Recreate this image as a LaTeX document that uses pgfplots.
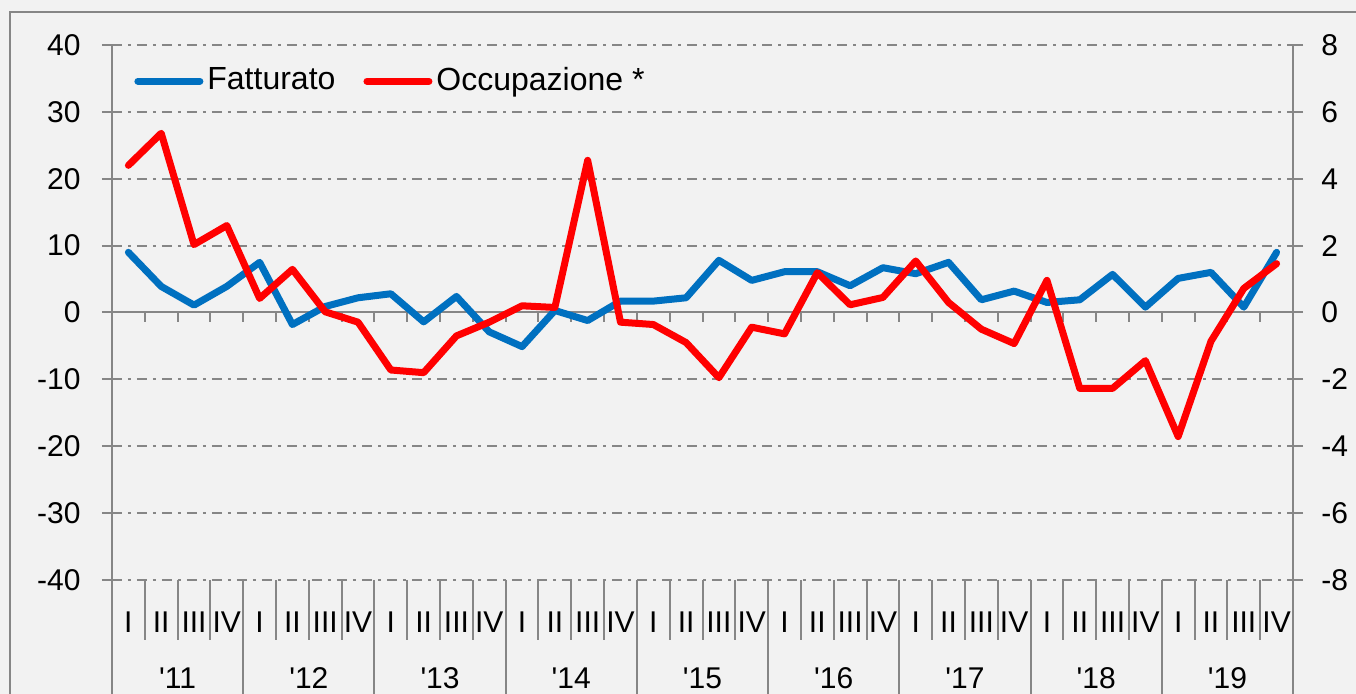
\documentclass[border=0pt]{standalone}
\usepackage{fontspec}
\setmainfont{Liberation Sans}[Ligatures=TeXOff]
\usepackage{pgfplots}
\usepackage{pgfplotstable}
\pgfplotsset{compat=1.18}
\definecolor{bg}{RGB}{242,242,242}
\definecolor{axc}{RGB}{134,134,134}
\definecolor{blu}{RGB}{0,112,192}
\definecolor{rosso}{RGB}{255,0,0}

\pgfplotstableread{
x f o
0 9.0 4.40
1 3.9 5.36
2 1.1 2.03
3 3.9 2.60
4 7.5 0.42
5 -1.8 1.29
6 0.9 0.02
7 2.2 -0.29
8 2.8 -1.72
9 -1.4 -1.80
10 2.4 -0.70
11 -2.9 -0.29
12 -5.1 0.20
13 0.3 0.15
14 -1.2 4.55
15 1.7 -0.29
16 1.7 -0.36
17 2.2 -0.90
18 7.8 -1.95
19 4.8 -0.44
20 6.1 -0.64
21 6.1 1.19
22 4.0 0.23
23 6.7 0.45
24 5.8 1.54
25 7.5 0.30
26 1.9 -0.50
27 3.2 -0.93
28 1.5 0.96
29 1.9 -2.27
30 5.7 -2.27
31 0.8 -1.44
32 5.1 -3.71
33 6.0 -0.86
34 0.8 0.72
35 9.0 1.46
}\datatable

\begin{document}
\fontsize{15}{18}\selectfont
\begin{tikzpicture}
\fill[bg] (-56pt,-57pt) rectangle (622pt,290pt);
\path[use as bounding box] (-56pt,-57pt) rectangle (622pt,290pt);
\draw[axc, line width=1pt] (-51pt,-70pt) -- (-51pt,284pt) -- (640pt,284pt);
\begin{axis}[
  at={(0,0)}, anchor=south west,
  scale only axis, width=590.5pt, height=267.5pt,
  xmin=-0.5, xmax=35.5, ymin=-40, ymax=40,
  axis y line*=left, axis x line*=bottom,
  x axis line style={draw=none},
  y axis line style={axc, line width=1pt},
  ytick={-40,-30,...,40},
  tick align=outside,
  major tick length=5pt,
  tick style={axc, line width=1pt},
  ymajorgrids,
  grid style={axc, line width=1pt, dash pattern=on 5pt off 3pt on 1.5pt off 3pt},
  xtick={0,...,35},
  xticklabels={I,II,III,IV,I,II,III,IV,I,II,III,IV,I,II,III,IV,I,II,III,IV,I,II,III,IV,I,II,III,IV,I,II,III,IV,I,II,III,IV},
  x tick style={draw=none},
  xticklabel style={anchor=base, yshift=-21.5pt},
  yticklabel style={xshift=-5.5pt},
  /pgf/number format/assume math mode=true,
  clip=false,
]
\draw[axc, line width=1pt] (axis cs:-0.5,0) -- (axis cs:35.5,0);
\pgfplotsinvokeforeach{-0.5,0.5,...,35.5}{
  \draw[axc, line width=1pt] (axis cs:#1,0) -- ([yshift=-5pt]axis cs:#1,0);
}
\pgfplotsinvokeforeach{0.5,1.5,2.5,4.5,5.5,6.5,8.5,9.5,10.5,12.5,13.5,14.5,16.5,17.5,18.5,20.5,21.5,22.5,24.5,25.5,26.5,28.5,29.5,30.5,32.5,33.5,34.5}{
  \draw[axc, line width=1pt] (axis cs:#1,-40) -- ([yshift=-30pt]axis cs:#1,-40);
}
\pgfplotsinvokeforeach{-0.5,3.5,7.5,11.5,15.5,19.5,23.5,27.5,31.5,35.5}{
  \draw[axc, line width=1pt] (axis cs:#1,-40) -- ([yshift=-70pt]axis cs:#1,-40);
}
\node[anchor=base] at ([yshift=-54.5pt]axis cs:1.5,-40) {'11};
\node[anchor=base] at ([yshift=-54.5pt]axis cs:5.5,-40) {'12};
\node[anchor=base] at ([yshift=-54.5pt]axis cs:9.5,-40) {'13};
\node[anchor=base] at ([yshift=-54.5pt]axis cs:13.5,-40) {'14};
\node[anchor=base] at ([yshift=-54.5pt]axis cs:17.5,-40) {'15};
\node[anchor=base] at ([yshift=-54.5pt]axis cs:21.5,-40) {'16};
\node[anchor=base] at ([yshift=-54.5pt]axis cs:25.5,-40) {'17};
\node[anchor=base] at ([yshift=-54.5pt]axis cs:29.5,-40) {'18};
\node[anchor=base] at ([yshift=-54.5pt]axis cs:33.5,-40) {'19};
\addplot[blu, line width=3.5pt, line join=round, line cap=round] table[x=x,y=f]{\datatable};
\end{axis}
\begin{axis}[
  at={(0,0)}, anchor=south west,
  scale only axis, width=590.5pt, height=267.5pt,
  xmin=-0.5, xmax=35.5, ymin=-8, ymax=8,
  axis y line*=right, axis x line=none,
  y axis line style={axc, line width=1pt},
  ytick={-8,-6,...,8},
  tick align=outside,
  major tick length=5pt,
  tick style={axc, line width=1pt},
  yticklabel style={xshift=4pt},
  /pgf/number format/assume math mode=true,
  clip=false,
  legend columns=2,
  legend style={at={(0,1)}, anchor=north west, xshift=8pt, yshift=-7pt, draw=none, fill=none,
    font=\fontsize{16}{19}\selectfont,
    /tikz/every even column/.append style={column sep=12pt}},
  legend image code/.code={\draw[#1, line cap=round] (0pt,0pt) -- (31pt,0pt);},
]
\addlegendimage{blu, line width=3.5pt}
\addlegendentry{Fatturato}
\addplot[rosso, line width=3.5pt, line join=round, line cap=round] table[x=x,y=o]{\datatable};
\addlegendentry{Occupazione *}
\end{axis}
\end{tikzpicture}
\end{document}
